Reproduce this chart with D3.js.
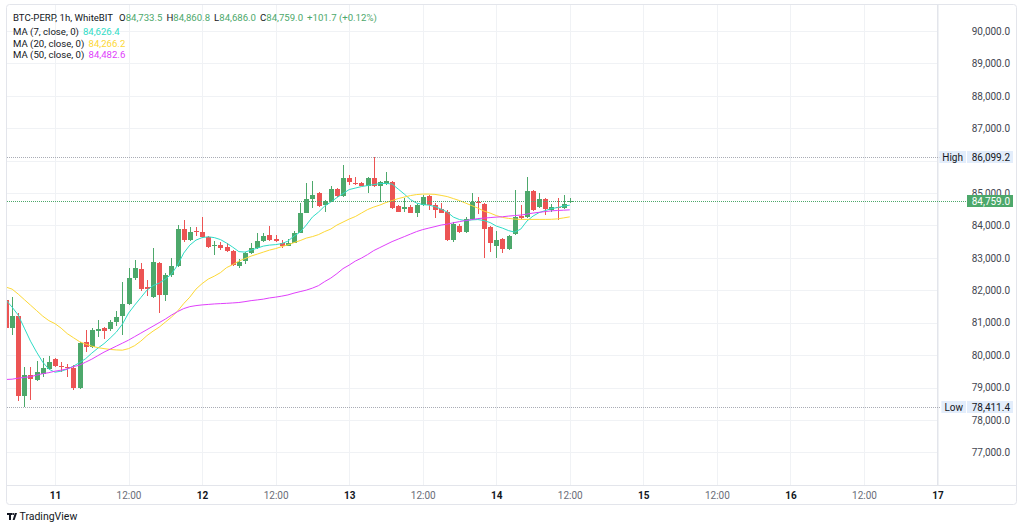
<!DOCTYPE html>
<html><head><meta charset="utf-8">
<script src="https://cdn.jsdelivr.net/npm/d3@7"></script>
<style>
html,body{margin:0;padding:0;background:#fff;}
svg{display:block;font-family:Roboto,"Noto Sans",sans-serif;}
</style></head><body>
<svg id="chart" width="1024" height="530"></svg>
<script>
// ---------- DATA (hourly candles, first candle = 2025-04-10 16:00 UTC) ----------
const firstCandle = Date.UTC(2025, 3, 10, 16);
const opens = [
81698, 80833, 81204, 78735, 79383, 79228, 79414, 79568,
79876, 79660, 79630, 79614, 78981, 80401, 80247, 80756,
80833, 80802, 81018, 81204, 81574, 82376, 82654, 82099,
81790, 82839, 81852, 82469, 82747, 83889, 83549, 83827,
83796, 83642, 83379, 83395, 83333, 83210, 82747, 82901,
83148, 83302, 83519, 83704, 83580, 83472, 83379, 83472,
83781, 84392, 84806, 85009, 84630, 84732, 85114, 84907,
85454, 85318, 85299, 85225, 85454, 85225, 85278, 85349,
84599, 84497, 84584, 84392, 84630, 84907, 84645, 84497,
84423, 83549, 83981, 83805, 84188, 84732, 84661, 83940,
83364, 83570, 83262, 83735, 84290, 84250, 85071, 84559,
84806, 84475, 84569, 84528, 84733.5];
const highs = [
81852, 81790, 81297, 79630, 79630, 79815, 79908, 79969,
79923, 79784, 79722, 79691, 80401, 80772, 80833, 81080,
80864, 81080, 81358, 82253, 82685, 82932, 82839, 82315,
83302, 82870, 82531, 82994, 84013, 84167, 83951, 83951,
84260, 83673, 83518, 83488, 83457, 83241, 82963, 83179,
83457, 83765, 83765, 83981, 83704, 83549, 83580, 83827,
84691, 85299, 85380, 85031, 84784, 85216, 85154, 85864,
85556, 85494, 85340, 85494, 86099.2, 85370, 85663, 85386,
84630, 84846, 84630, 84661, 84938, 84938, 84691, 84691,
84475, 84105, 84043, 84260, 85000, 84877, 84691, 83981,
83836, 83611, 83704, 85093, 84630, 85494, 85093, 85000,
84846, 84661, 84861, 84938, 84860.8];
const lows = [
80772, 80617, 78580, 78411.4, 78611, 79197, 79321, 79537,
79630, 79475, 79321, 78920, 78950, 80093, 80216, 80555,
80494, 80741, 80895, 80617, 81543, 82315, 81975, 81821,
81759, 81297, 81667, 82407, 82716, 83488, 83519, 83673,
83611, 83302, 83086, 83241, 83179, 82747, 82685, 82809,
83117, 83271, 83488, 83519, 83488, 83302, 83364, 83457,
83765, 84383, 84528, 84568, 84423, 84722, 84877, 84877,
85247, 85247, 85216, 85000, 85185, 84732, 85247, 84506,
84413, 84413, 84383, 84268, 84599, 84475, 84219, 84383,
83519, 83488, 83765, 83765, 84167, 84352, 82994, 83167,
82994, 83148, 83241, 83704, 84198, 84229, 84444, 84537,
84321, 84413, 84167, 84506, 84686.0];
const closes = [
80833, 81204, 78735, 79383, 79259, 79475, 79599, 79784,
79661, 79630, 79599, 78981, 80370, 80247, 80772, 80818,
80741, 81018, 81188, 81574, 82376, 82685, 82037, 82037,
82870, 81852, 82469, 82747, 83889, 83549, 83796, 83796,
83642, 83333, 83410, 83318, 83210, 82778, 82870, 83148,
83302, 83519, 83673, 83549, 83534, 83379, 83472, 83781,
84392, 84806, 84938, 84599, 84762, 85114, 84907, 85454,
85349, 85278, 85232, 85454, 85225, 85349, 85386, 84528,
84429, 84559, 84392, 84630, 84886, 84645, 84491, 84398,
83549, 84043, 83805, 84188, 84732, 84682, 83879, 83460,
83549, 83262, 83673, 84268, 84219, 85071, 84475, 84806,
84497, 84559, 84528, 84661, 84759.0];
const ma7 = [
81698, 81482, 81235, 80833, 80432, 80093, 79784, 79568,
79475, 79506, 79568, 79661, 79769, 79892, 80062, 80216,
80355, 80525, 80710, 80957, 81297, 81543, 81775, 82006,
82145, 82222, 82346, 82500, 82778, 83148, 83395, 83549,
83626, 83651, 83626, 83565, 83457, 83333, 83194, 83179,
83241, 83302, 83364, 83395, 83410, 83441, 83518, 83673,
83796, 84013, 84260, 84414, 84599, 84722, 84861, 84985,
85108, 85154, 85201, 85232, 85263, 85293, 85299, 85278,
85124, 84969, 84799, 84691, 84645, 84630, 84583, 84506,
84414, 84260, 84183, 84152, 84173, 84183, 84152, 84090,
83982, 83920, 83843, 83796, 83889, 84136, 84290, 84398,
84460, 84522, 84553, 84599, 84626.4];
const ma20 = [
82099, 82037, 81883, 81713, 81543, 81374, 81204, 81065,
80972, 80833, 80664, 80540, 80417, 80340, 80278, 80232,
80201, 80176, 80161, 80154, 80201, 80293, 80432, 80602,
80741, 80864, 81018, 81173, 81358, 81590, 81790, 82037,
82207, 82346, 82438, 82546, 82701, 82793, 82901, 82978,
83056, 83117, 83179, 83241, 83287, 83349, 83401, 83472,
83534, 83611, 83657, 83719, 83812, 83889, 84013, 84105,
84198, 84275, 84383, 84491, 84568, 84630, 84707, 84769,
84830, 84877, 84923, 84954, 84969, 84969, 84960, 84929,
84892, 84830, 84769, 84691, 84614, 84537, 84444, 84383,
84306, 84250, 84219, 84198, 84188, 84188, 84188, 84188,
84188, 84191, 84204, 84235, 84266.2];
const ma50 = [
79250, 79259, 79290, 79312, 79336, 79383, 79429, 79460,
79506, 79537, 79577, 79645, 79691, 79784, 79876, 79985,
80093, 80185, 80278, 80370, 80463, 80571, 80679, 80787,
80895, 81003, 81111, 81235, 81343, 81436, 81497, 81528,
81550, 81565, 81580, 81590, 81599, 81611, 81624, 81651,
81682, 81704, 81728, 81765, 81790, 81821, 81858, 81914,
81960, 82006, 82068, 82145, 82269, 82377, 82515, 82670,
82778, 82901, 82994, 83102, 83225, 83318, 83411, 83503,
83580, 83657, 83735, 83812, 83873, 83920, 83966, 84013,
84043, 84083, 84120, 84152, 84182, 84213, 84228, 84244,
84259, 84269, 84290, 84306, 84321, 84352, 84383, 84407,
84429, 84451, 84463, 84472, 84482.6];
const priceTicks = [77000, 78000, 79000, 80000, 81000, 82000, 83000, 84000, 85000, 86000, 87000, 88000, 89000, 90000];
const timeTicks = ["2025-04-11T00:00Z","2025-04-11T12:00Z","2025-04-12T00:00Z","2025-04-12T12:00Z",
  "2025-04-13T00:00Z","2025-04-13T12:00Z","2025-04-14T00:00Z","2025-04-14T12:00Z",
  "2025-04-15T00:00Z","2025-04-15T12:00Z","2025-04-16T00:00Z","2025-04-16T12:00Z","2025-04-17T00:00Z"];
const maNames = ["MA (7, close, 0)", "MA (20, close, 0)", "MA (50, close, 0)"];
const symbolTitle = "BTC-PERP, 1h, WhiteBIT";
const changeText = "+101.7 (+0.12%)";

// ---------- STYLE ----------
const upColor = "#4da86b", downColor = "#ec5454";
const maColors = ["#2fdcc6", "#fdd835", "#e040fb"];
const gridColor = "#f0f2f5", borderColor = "#e3e5eb", textColor = "#131722";
const FONT = 'Roboto,"Noto Sans",sans-serif';

const plot = {l: 7, r: 937, t: 5, b: 485};
const svg = d3.select("#chart");

const x = d3.scaleUtc()
  .domain([new Date(timeTicks[0]), new Date(timeTicks[timeTicks.length - 1])])
  .range([55, 937.5]);
const y = d3.scaleLinear().domain([77000, 90000]).range([452.4, 31]);

const candles = opens.map((o, i) => ({
  t: new Date(firstCandle + i * 3600e3), o, h: highs[i], l: lows[i], c: closes[i]
}));

// frame
svg.append("rect").attr("x", 6.5).attr("y", 4.5).attr("width", 1010).attr("height", 500)
  .attr("rx", 3).attr("fill", "#fff").attr("stroke", borderColor);

svg.append("defs").append("clipPath").attr("id", "plotclip")
  .append("rect").attr("x", plot.l).attr("y", plot.t).attr("width", plot.r - plot.l).attr("height", plot.b - plot.t);

// grid
const grid = svg.append("g");
grid.selectAll("line.v").data(timeTicks.map(d => new Date(d))).join("line")
  .attr("x1", d => Math.round(x(d)) + 0.5).attr("x2", d => Math.round(x(d)) + 0.5)
  .attr("y1", plot.t).attr("y2", plot.b).attr("stroke", gridColor);
grid.selectAll("line.h").data(priceTicks).join("line")
  .attr("x1", plot.l).attr("x2", plot.r)
  .attr("y1", d => Math.round(y(d)) + 0.5).attr("y2", d => Math.round(y(d)) + 0.5)
  .attr("stroke", gridColor);

// separators
svg.append("line").attr("x1", 7).attr("x2", 1016).attr("y1", 485.5).attr("y2", 485.5).attr("stroke", borderColor);
svg.append("line").attr("x1", 937.5).attr("x2", 937.5).attr("y1", 5).attr("y2", 485).attr("stroke", borderColor);

const plotG = svg.append("g").attr("clip-path", "url(#plotclip)");

// high/low reference lines
const hiVal = d3.max(highs), loVal = d3.min(lows);
const hiY = Math.round(y(hiVal)) + 0.5, loY = Math.round(y(loVal)) + 0.5;
[hiY, loY].forEach(yy => {
  svg.append("line").attr("x1", plot.l).attr("x2", 940).attr("y1", yy).attr("y2", yy)
    .attr("stroke", "#a9acb5").attr("stroke-dasharray", "1,1");
});

// candles
const cg = plotG.append("g");
const cx = d => Math.round(x(d.t));
cg.selectAll("rect.wick").data(candles).join("rect")
  .attr("x", d => cx(d)).attr("width", 1)
  .attr("y", d => Math.round(y(d.h)))
  .attr("height", d => Math.max(1, Math.round(y(d.l)) - Math.round(y(d.h))))
  .attr("fill", d => d.c >= d.o ? upColor : downColor);
cg.selectAll("rect.body").data(candles).join("rect")
  .attr("x", d => cx(d) - 2).attr("width", 5)
  .attr("y", d => Math.round(y(Math.max(d.o, d.c))))
  .attr("height", d => Math.max(1, Math.round(y(Math.min(d.o, d.c))) - Math.round(y(Math.max(d.o, d.c)))))
  .attr("fill", d => d.c >= d.o ? upColor : downColor);

// moving averages
const line = d3.line().x(d => x(d.t)).y(d => y(d.v));
[ma7, ma20, ma50].forEach((arr, k) => {
  const pts = arr.map((v, i) => ({t: candles[i].t, v}));
  plotG.append("path").attr("d", line(pts)).attr("fill", "none")
    .attr("stroke", maColors[k]).attr("stroke-width", 1);
});

// current price line
const last = candles[candles.length - 1];
const lastY = Math.round(y(last.c)) + 0.5;
svg.append("line").attr("x1", plot.l).attr("x2", 967).attr("y1", lastY).attr("y2", lastY)
  .attr("stroke", upColor).attr("stroke-dasharray", "1,1");

// price axis (labels hidden behind the High / Low markers are not drawn, as in the reference)
const fmt = d3.format(",.1f");
const visibleTicks = priceTicks.filter(p => Math.abs(y(p) - hiY) > 8 && Math.abs(y(p) - loY) > 8);
const yAxisG = svg.append("g").attr("transform", "translate(937,0)")
  .call(d3.axisRight(y).tickValues(visibleTicks).tickFormat(fmt).tickSize(0));
yAxisG.select(".domain").remove();
yAxisG.attr("font-family", FONT).attr("font-size", 10);
yAxisG.selectAll("text").attr("x", 73).attr("text-anchor", "end").attr("fill", "#434651");

// time axis
const xAxisG = svg.append("g").attr("transform", "translate(0,485)")
  .call(d3.axisBottom(x).tickValues(timeTicks.map(d => new Date(d))).tickSize(0)
    .tickFormat(d => d.getUTCHours() === 0 ? d3.utcFormat("%-d")(d) : d3.utcFormat("%H:%M")(d)));
xAxisG.select(".domain").remove();
xAxisG.attr("font-family", FONT).attr("font-size", 10);
xAxisG.selectAll("text").attr("y", 10).attr("dy", "0.35em")
  .attr("fill", d => d.getUTCHours() === 0 ? textColor : "#6a6d78")
  .attr("font-weight", d => d.getUTCHours() === 0 ? "bold" : "normal");

// high / low / last labels
function sideLabel(yy, name, val) {
  const g = svg.append("g").attr("font-family", FONT).attr("font-size", 10);
  const t = g.append("text").attr("x", 963).attr("y", yy).attr("dy", "0.35em")
    .attr("text-anchor", "end").attr("fill", textColor).text(name);
  const w = t.node().getComputedTextLength();
  g.insert("rect", "text").attr("x", 963 - w - 3).attr("y", yy - 6).attr("width", w + 6).attr("height", 12)
    .attr("fill", "#e3edfb");
  g.append("rect").attr("x", 967).attr("y", yy - 6).attr("width", 46).attr("height", 12).attr("fill", "#e3edfb");
  g.append("text").attr("x", 1010).attr("y", yy).attr("dy", "0.35em").attr("text-anchor", "end")
    .attr("fill", textColor).text(fmt(val));
}
sideLabel(hiY - 0.5, "High", hiVal);
sideLabel(loY - 0.5, "Low", loVal);
const lg = svg.append("g").attr("font-family", FONT).attr("font-size", 10);
lg.append("rect").attr("x", 967).attr("y", lastY - 6.5).attr("width", 46).attr("height", 12).attr("fill", upColor);
lg.append("text").attr("x", 1010).attr("y", lastY - 0.5).attr("dy", "0.35em").attr("text-anchor", "end")
  .attr("fill", "#fff").text(fmt(last.c));

// legend: items at the reference positions, pushed right only if the previous text needs the room
const leg = svg.append("g").attr("font-family", FONT).attr("font-size", 9.6);
function row(yy, items) {
  let end = 0;
  items.forEach(it => {
    const xx = Math.max(it.x, end + it.gap);
    const t = leg.append("text").attr("x", xx).attr("y", yy);
    it.parts.forEach(p => t.append("tspan").attr("fill", p.c).text(p.s));
    end = xx + t.node().getComputedTextLength();
  });
}
row(21, [
  {x: 13, gap: 0, parts: [{s: symbolTitle, c: textColor}]},
  {x: 117, gap: 6, parts: [{s: "O", c: textColor}, {s: fmt(last.o), c: upColor}]},
  {x: 164, gap: 4, parts: [{s: "H", c: textColor}, {s: fmt(last.h), c: upColor}]},
  {x: 213, gap: 4, parts: [{s: "L", c: textColor}, {s: fmt(last.l), c: upColor}]},
  {x: 259, gap: 4, parts: [{s: "C", c: textColor}, {s: fmt(last.c), c: upColor}]},
  {x: 306, gap: 4, parts: [{s: changeText, c: upColor}]}
]);
const maValueX = [81.5, 88.5, 88.5];
[ma7, ma20, ma50].forEach((arr, k) => {
  row(35 + k * 11.7, [
    {x: 13, gap: 0, parts: [{s: maNames[k], c: textColor}]},
    {x: maValueX[k], gap: 4, parts: [{s: fmt(arr[arr.length - 1]), c: maColors[k]}]}
  ]);
});

// TradingView footer
const foot = svg.append("g").attr("fill", textColor);
foot.append("rect").attr("x", 7).attr("y", 513).attr("width", 5).attr("height", 2);
foot.append("rect").attr("x", 9).attr("y", 513).attr("width", 2).attr("height", 7);
foot.append("circle").attr("cx", 13.2).attr("cy", 514).attr("r", 1.1);
foot.append("path").attr("d", "M14.8,513 L17,513 L14.6,520 L12.6,520 Z");
foot.append("text").attr("x", 19.5).attr("y", 520).attr("font-family", FONT).attr("font-size", 10.5)
  .attr("fill", textColor).text("TradingView");
</script>
</body></html>
